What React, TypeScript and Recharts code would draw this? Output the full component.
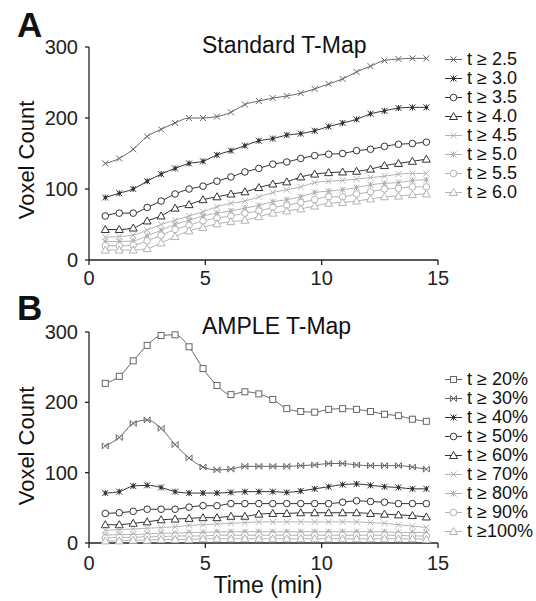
import React from 'react';
import { LineChart, Line, XAxis, YAxis, Legend } from 'recharts';

// time points (min)
const times = [0.7, 1.3, 1.9, 2.5, 3.1, 3.7, 4.3, 4.9, 5.5, 6.1, 6.7, 7.3, 7.9, 8.5, 9.1, 9.7, 10.3, 10.9, 11.5, 12.1, 12.7, 13.3, 13.9, 14.5];

// Panel A: standard T-map thresholds
const a25 = [136, 143, 156, 174, 184, 193, 200, 200, 202, 208, 219, 224, 228, 231, 235, 241, 248, 255, 265, 273, 281, 283, 284, 284];
const a30 = [88, 94, 100, 111, 121, 129, 136, 139, 148, 154, 161, 168, 171, 176, 178, 182, 188, 193, 198, 206, 210, 214, 215, 215];
const a35 = [62, 66, 66, 74, 83, 93, 100, 104, 111, 117, 124, 129, 135, 138, 143, 147, 149, 150, 154, 156, 160, 163, 164, 166];
const a40 = [43, 43, 45, 55, 62, 73, 78, 85, 89, 93, 96, 102, 107, 110, 117, 121, 123, 124, 125, 128, 133, 136, 139, 142];
const a45 = [32, 33, 35, 42, 50, 56, 62, 68, 75, 80, 83, 89, 95, 99, 103, 109, 111, 112, 114, 116, 118, 121, 122, 122];
const a50 = [26, 26, 27, 34, 42, 50, 56, 62, 66, 69, 73, 77, 82, 85, 89, 95, 97, 99, 102, 106, 108, 109, 112, 113];
const a55 = [20, 20, 21, 27, 35, 43, 49, 55, 59, 62, 66, 69, 74, 77, 81, 85, 89, 89, 93, 96, 100, 101, 103, 103];
const a60 = [14, 14, 14, 16, 24, 33, 41, 46, 51, 54, 56, 61, 66, 69, 72, 76, 80, 81, 83, 86, 89, 90, 92, 93];

// Panel B: AMPLE T-map thresholds
const b20 = [227, 237, 259, 281, 295, 296, 279, 248, 224, 211, 215, 212, 204, 191, 187, 186, 190, 191, 190, 187, 183, 181, 176, 173];
const b30 = [138, 150, 170, 175, 163, 140, 121, 108, 104, 105, 109, 109, 109, 109, 110, 111, 113, 113, 111, 110, 110, 110, 108, 105];
const b40 = [71, 73, 81, 82, 79, 73, 71, 71, 71, 72, 73, 73, 73, 72, 74, 77, 80, 83, 84, 82, 80, 79, 77, 77];
const b50 = [42, 43, 45, 48, 48, 48, 51, 53, 53, 56, 56, 56, 56, 56, 56, 56, 56, 58, 60, 59, 58, 56, 56, 56];
const b60 = [26, 26, 28, 30, 33, 34, 35, 36, 36, 38, 38, 41, 42, 42, 43, 43, 43, 43, 43, 42, 41, 40, 39, 37];
const b70 = [18, 19, 20, 21, 22, 23, 25, 26, 27, 28, 29, 30, 30, 30, 30, 30, 30, 30, 30, 29, 28, 26, 24, 22];
const b80 = [11, 12, 12, 13, 14, 14, 15, 15, 16, 16, 16, 16, 16, 16, 16, 16, 16, 16, 16, 16, 16, 15, 15, 15];
const b90 = [7, 8, 8, 9, 9, 10, 10, 10, 11, 11, 11, 11, 11, 11, 11, 11, 11, 11, 11, 11, 11, 11, 10, 10];
const b100 = [3, 3, 4, 4, 5, 5, 5, 6, 6, 6, 6, 6, 6, 6, 6, 6, 6, 6, 6, 6, 6, 6, 6, 5];

const xTicks = [0, 5, 10, 15];
const yTicks = [0, 100, 200, 300];

const DARK = '#333333';
const MID = '#666666';
const LIGHT = '#b3b3b3';
const FONT = '"Liberation Sans", Arial, Helvetica, sans-serif';

type Shape = 'x' | 'bowtie' | 'star' | 'circle' | 'triangle' | 'square';
interface SeriesDef {
  key: string;
  values: number[];
  label: string;
  color: string;
  shape: Shape;
}

const standardSeries: SeriesDef[] = [
  { key: 'a25', values: a25, label: 't ≥ 2.5', color: MID, shape: 'x' },
  { key: 'a30', values: a30, label: 't ≥ 3.0', color: DARK, shape: 'star' },
  { key: 'a35', values: a35, label: 't ≥ 3.5', color: DARK, shape: 'circle' },
  { key: 'a40', values: a40, label: 't ≥ 4.0', color: DARK, shape: 'triangle' },
  { key: 'a45', values: a45, label: 't ≥ 4.5', color: LIGHT, shape: 'x' },
  { key: 'a50', values: a50, label: 't ≥ 5.0', color: LIGHT, shape: 'star' },
  { key: 'a55', values: a55, label: 't ≥ 5.5', color: LIGHT, shape: 'circle' },
  { key: 'a60', values: a60, label: 't ≥ 6.0', color: LIGHT, shape: 'triangle' },
];

const ampleSeries: SeriesDef[] = [
  { key: 'b20', values: b20, label: 't ≥ 20%', color: MID, shape: 'square' },
  { key: 'b30', values: b30, label: 't ≥ 30%', color: MID, shape: 'bowtie' },
  { key: 'b40', values: b40, label: 't ≥ 40%', color: DARK, shape: 'star' },
  { key: 'b50', values: b50, label: 't ≥ 50%', color: DARK, shape: 'circle' },
  { key: 'b60', values: b60, label: 't ≥ 60%', color: DARK, shape: 'triangle' },
  { key: 'b70', values: b70, label: 't ≥ 70%', color: LIGHT, shape: 'x' },
  { key: 'b80', values: b80, label: 't ≥ 80%', color: LIGHT, shape: 'star' },
  { key: 'b90', values: b90, label: 't ≥ 90%', color: LIGHT, shape: 'circle' },
  { key: 'b100', values: b100, label: 't ≥100%', color: LIGHT, shape: 'triangle' },
];

const buildRows = (series: SeriesDef[]) =>
  times.map((t, i) => {
    const row: Record<string, number> = { t };
    series.forEach((s) => {
      row[s.key] = s.values[i];
    });
    return row;
  });

const standardData = buildRows(standardSeries);
const ampleData = buildRows(ampleSeries);

const Marker = ({ cx, cy, shape, color }: { cx: number; cy: number; shape: Shape; color: string }) => {
  const r = 3;
  switch (shape) {
    case 'x':
      return (
        <path
          d={`M${cx - r},${cy - r}L${cx + r},${cy + r}M${cx - r},${cy + r}L${cx + r},${cy - r}`}
          stroke={color}
          strokeWidth={1}
          fill="none"
        />
      );
    case 'bowtie':
      return (
        <path
          d={`M${cx - r},${cy - r}L${cx + r},${cy + r}M${cx - r},${cy + r}L${cx + r},${cy - r}M${cx - r},${cy - r}L${cx - r},${cy + r}M${cx + r},${cy - r}L${cx + r},${cy + r}`}
          stroke={color}
          strokeWidth={1}
          fill="none"
        />
      );
    case 'star':
      return (
        <g>
          <path
            d={`M${cx - r},${cy - r}L${cx + r},${cy + r}M${cx - r},${cy + r}L${cx + r},${cy - r}M${cx},${cy - r}L${cx},${cy + r}`}
            stroke={color}
            strokeWidth={1}
          />
          <circle cx={cx} cy={cy} r={1.7} fill={color} />
        </g>
      );
    case 'circle':
      return <circle cx={cx} cy={cy} r={3.3} fill="#fff" stroke={color} strokeWidth={1} />;
    case 'triangle':
      return (
        <path
          d={`M${cx},${cy - 4}L${cx + 4},${cy + 3}L${cx - 4},${cy + 3}Z`}
          fill="#fff"
          stroke={color}
          strokeWidth={1}
        />
      );
    case 'square':
      return <rect x={cx - 3} y={cy - 3} width={6} height={6} fill="#fff" stroke={color} strokeWidth={1} />;
    default:
      return null;
  }
};

const makeDot = (s: SeriesDef) => (props: any) => {
  if (props.cx == null || props.cy == null) return <g key={`${s.key}-${props.index}`} />;
  return (
    <g key={`${s.key}-${props.index}`}>
      <Marker cx={props.cx} cy={props.cy} shape={s.shape} color={s.color} />
    </g>
  );
};

const LegendBox = ({ series }: { series: SeriesDef[] }) => (
  <div style={{ width: 93, fontFamily: FONT }}>
    {series.map((s) => (
      <div key={s.key} style={{ display: 'flex', alignItems: 'center', height: 19 }}>
        <svg width={20} height={19} style={{ flex: 'none' }}>
          <line x1={2} y1={9.5} x2={19} y2={9.5} stroke={s.color} strokeWidth={1} />
          <Marker cx={10.5} cy={9.5} shape={s.shape} color={s.color} />
        </svg>
        <span style={{ marginLeft: 4, fontSize: 18, color: '#111', whiteSpace: 'nowrap', lineHeight: '19px' }}>
          {s.label}
        </span>
      </div>
    ))}
  </div>
);

const axisStroke = { stroke: '#222', strokeWidth: 1.3 };
const tickStyle = { fontSize: 20, fill: '#222', fontFamily: FONT };

interface PanelProps {
  data: Record<string, number>[];
  series: SeriesDef[];
  height: number;
  top: number;
  axisHeight: number;
  tickMargin: number;
  legendTop: number;
}

const Panel: React.FC<PanelProps> = ({ data, series, height, top, axisHeight, tickMargin, legendTop }) => (
  <LineChart width={536} height={height} data={data} margin={{ top, right: 5, bottom: 0, left: 0 }}>
    <XAxis
      dataKey="t"
      type="number"
      domain={[0, 15]}
      ticks={xTicks}
      height={axisHeight}
      tickSize={5}
      tickMargin={tickMargin}
      axisLine={axisStroke}
      tickLine={axisStroke}
      tick={tickStyle}
      interval={0}
    />
    <YAxis
      type="number"
      domain={[0, 300]}
      ticks={yTicks}
      width={89}
      tickSize={4}
      tickMargin={7}
      axisLine={axisStroke}
      tickLine={axisStroke}
      tick={tickStyle}
      interval={0}
    />
    <Legend
      layout="vertical"
      align="right"
      verticalAlign="top"
      wrapperStyle={{ left: 443, top: legendTop, width: 93 }}
      content={() => <LegendBox series={series} />}
    />
    {series.map((s) => (
      <Line
        key={s.key}
        type="monotone"
        dataKey={s.key}
        name={s.label}
        stroke={s.color}
        strokeWidth={1}
        dot={makeDot(s)}
        activeDot={false}
        isAnimationActive={false}
      />
    ))}
  </LineChart>
);

export default function App() {
  return (
    <div style={{ position: 'absolute', left: 0, top: 0, width: 536, height: 601, background: '#fff', overflow: 'hidden' }}>
      <div style={{ position: 'absolute', left: 0, top: 0 }}>
        <Panel data={standardData} series={standardSeries} height={300} top={47} axisHeight={40} tickMargin={6} legendTop={50} />
      </div>
      <div style={{ position: 'absolute', left: 0, top: 290 }}>
        <Panel data={ampleData} series={ampleSeries} height={311} top={42} axisHeight={58} tickMargin={8} legendTop={80} />
      </div>
      <svg
        width={536}
        height={601}
        style={{ position: 'absolute', left: 0, top: 0, pointerEvents: 'none' }}
        fontFamily={FONT}
      >
        <text x={17} y={37} fontSize={35} fontWeight="bold" fill="#111">A</text>
        <text x={17} y={320} fontSize={35} fontWeight="bold" fill="#111">B</text>
        <text x={202} y={53} fontSize={23} fill="#111">Standard T-Map</text>
        <text x={202} y={334} fontSize={23} fill="#111">AMPLE T-Map</text>
        <text x={34} y={160} fontSize={22} fill="#111" textAnchor="middle" transform="rotate(-90 34 160)">Voxel Count</text>
        <text x={34} y={446} fontSize={22} fill="#111" textAnchor="middle" transform="rotate(-90 34 446)">Voxel Count</text>
        <text x={268} y={593} fontSize={23} fill="#111" textAnchor="middle">Time (min)</text>
      </svg>
    </div>
  );
}
